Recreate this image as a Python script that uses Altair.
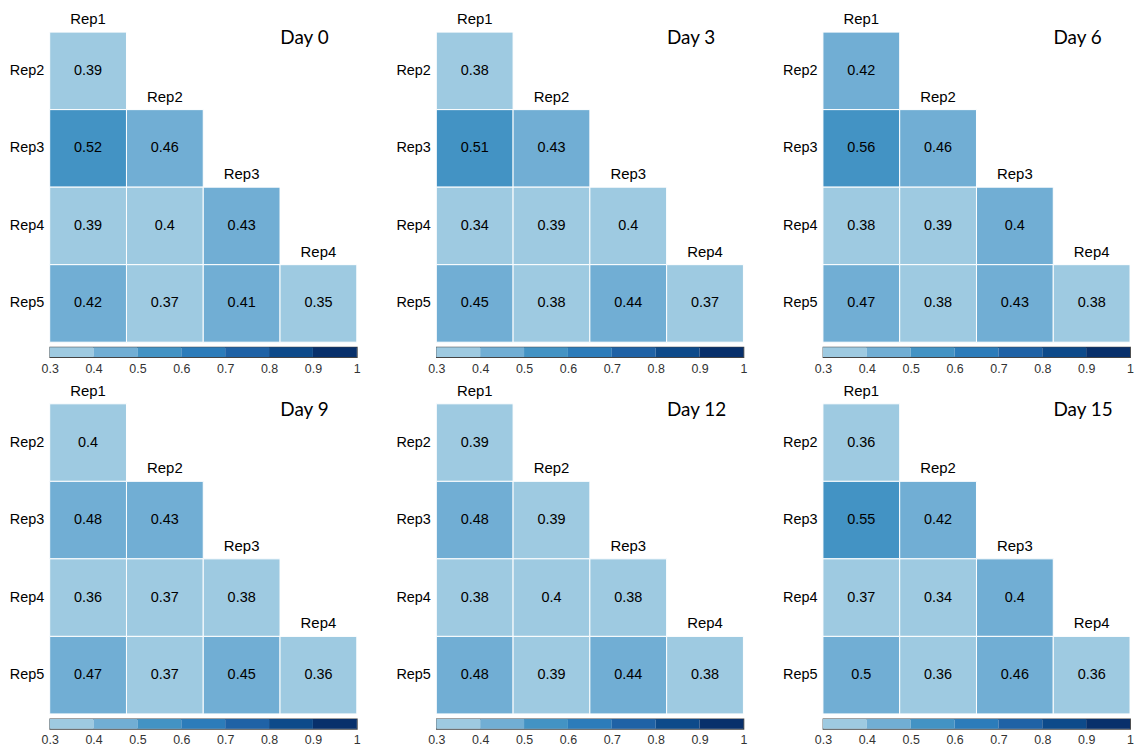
import altair as alt
import pandas as pd

DAYS = ["Day 0", "Day 3", "Day 6", "Day 9", "Day 12", "Day 15"]
ROWS = ["Rep2", "Rep3", "Rep4", "Rep5"]
COLS = ["Rep1", "Rep2", "Rep3", "Rep4"]

# Lower-triangle correlations, row by row:
# Rep2|Rep1; Rep3|Rep1,Rep2; Rep4|Rep1..Rep3; Rep5|Rep1..Rep4
DAY_0 = [0.39, 0.52, 0.46, 0.39, 0.398, 0.43, 0.42, 0.37, 0.41, 0.35]
DAY_3 = [0.38, 0.51, 0.43, 0.34, 0.39, 0.398, 0.45, 0.38, 0.44, 0.37]
DAY_6 = [0.42, 0.56, 0.46, 0.38, 0.39, 0.402, 0.47, 0.38, 0.43, 0.38]
DAY_9 = [0.398, 0.48, 0.43, 0.36, 0.37, 0.38, 0.47, 0.37, 0.45, 0.36]
DAY_12 = [0.39, 0.48, 0.39, 0.38, 0.398, 0.38, 0.48, 0.39, 0.44, 0.38]
DAY_15 = [0.36, 0.55, 0.42, 0.37, 0.34, 0.402, 0.498, 0.36, 0.46, 0.36]
SERIES = [DAY_0, DAY_3, DAY_6, DAY_9, DAY_12, DAY_15]

# Colour bar breaks and the colour of each bin
BREAKS = [0.3, 0.4, 0.5, 0.6, 0.7, 0.8, 0.9, 1.0]
BIN_COLORS = ["#9ecae1", "#71aed4", "#4393c4", "#2c7cba", "#1f62a6", "#0d4a8a", "#08306b"]

LABEL_FONT = "Liberation Sans"
TITLE_FONT = "Lato"
GRID_W = 309
GRID_H = 312

color_scale = alt.Scale(type="threshold", domain=BREAKS[1:-1], range=BIN_COLORS)


def triangle_frame(values):
    recs = []
    k = 0
    for i, row in enumerate(ROWS):
        for j in range(i + 1):
            recs.append({"row": row, "col": COLS[j], "r": values[k]})
            k += 1
    return pd.DataFrame(recs)


headers = pd.DataFrame({"col": COLS, "row": ROWS})
x_enc = alt.X("col:N", scale=alt.Scale(domain=COLS, paddingInner=0, paddingOuter=0), axis=None)
y_enc = alt.Y(
    "row:N",
    scale=alt.Scale(domain=ROWS, paddingInner=0, paddingOuter=0),
    axis=alt.Axis(title=None, ticks=False, domain=False, labelPadding=6,
                  labelFontSize=14.5, labelFont=LABEL_FONT, labelColor="black"),
)


def panel(day, values):
    df = triangle_frame(values)
    base = alt.Chart(df).encode(x=x_enc, y=y_enc)
    cells = base.mark_rect(stroke="white", strokeWidth=1).encode(
        color=alt.Color("r:Q", scale=color_scale, legend=None)
    )
    nums = base.mark_text(fontSize=14.5, font=LABEL_FONT, color="black").encode(
        text=alt.Text("r:Q", format=".2~f")
    )
    head = alt.Chart(headers).mark_text(
        dy=-47, baseline="alphabetic", fontSize=15, font=LABEL_FONT, color="black"
    ).encode(x=x_enc, y=y_enc, text="col:N")
    title = alt.Chart(pd.DataFrame({"t": [day]})).mark_text(
        align="left", baseline="middle", fontSize=19, font=TITLE_FONT, color="black"
    ).encode(x=alt.value(232), y=alt.value(6), text="t:N")
    grid = alt.layer(cells, nums, head, title).properties(
        width=GRID_W, height=GRID_H, view=alt.ViewBackground(stroke=None)
    )

    bins = pd.DataFrame({"lo": BREAKS[:-1], "hi": BREAKS[1:]})
    bar = alt.Chart(bins).mark_rect().encode(
        x=alt.X("lo:Q", scale=alt.Scale(domain=[BREAKS[0], BREAKS[-1]], nice=False, zero=False),
                axis=alt.Axis(values=BREAKS, format="~g", ticks=False, domain=False, grid=False,
                              labelFlush=False, labelOverlap=False,
                              labelPadding=5, labelFontSize=12.5, labelFont=LABEL_FONT,
                              labelColor="#333", title=None)),
        x2="hi:Q",
        color=alt.Color("lo:Q", scale=color_scale, legend=None),
    ).properties(width=GRID_W, height=10,
                 view=alt.ViewBackground(stroke="#444", strokeWidth=1.2))
    return alt.vconcat(grid, bar, spacing=3)


panels = [panel(d, v) for d, v in zip(DAYS, SERIES)]
chart = alt.vconcat(
    alt.hconcat(*panels[:3], spacing=34),
    alt.hconcat(*panels[3:], spacing=34),
    spacing=8,
).properties(
    padding={"left": 9, "top": 10, "right": 0, "bottom": 0},
    background="white",
).configure_view(stroke=None)

chart.save("out.html", embed_options={"renderer": "svg", "actions": False})
